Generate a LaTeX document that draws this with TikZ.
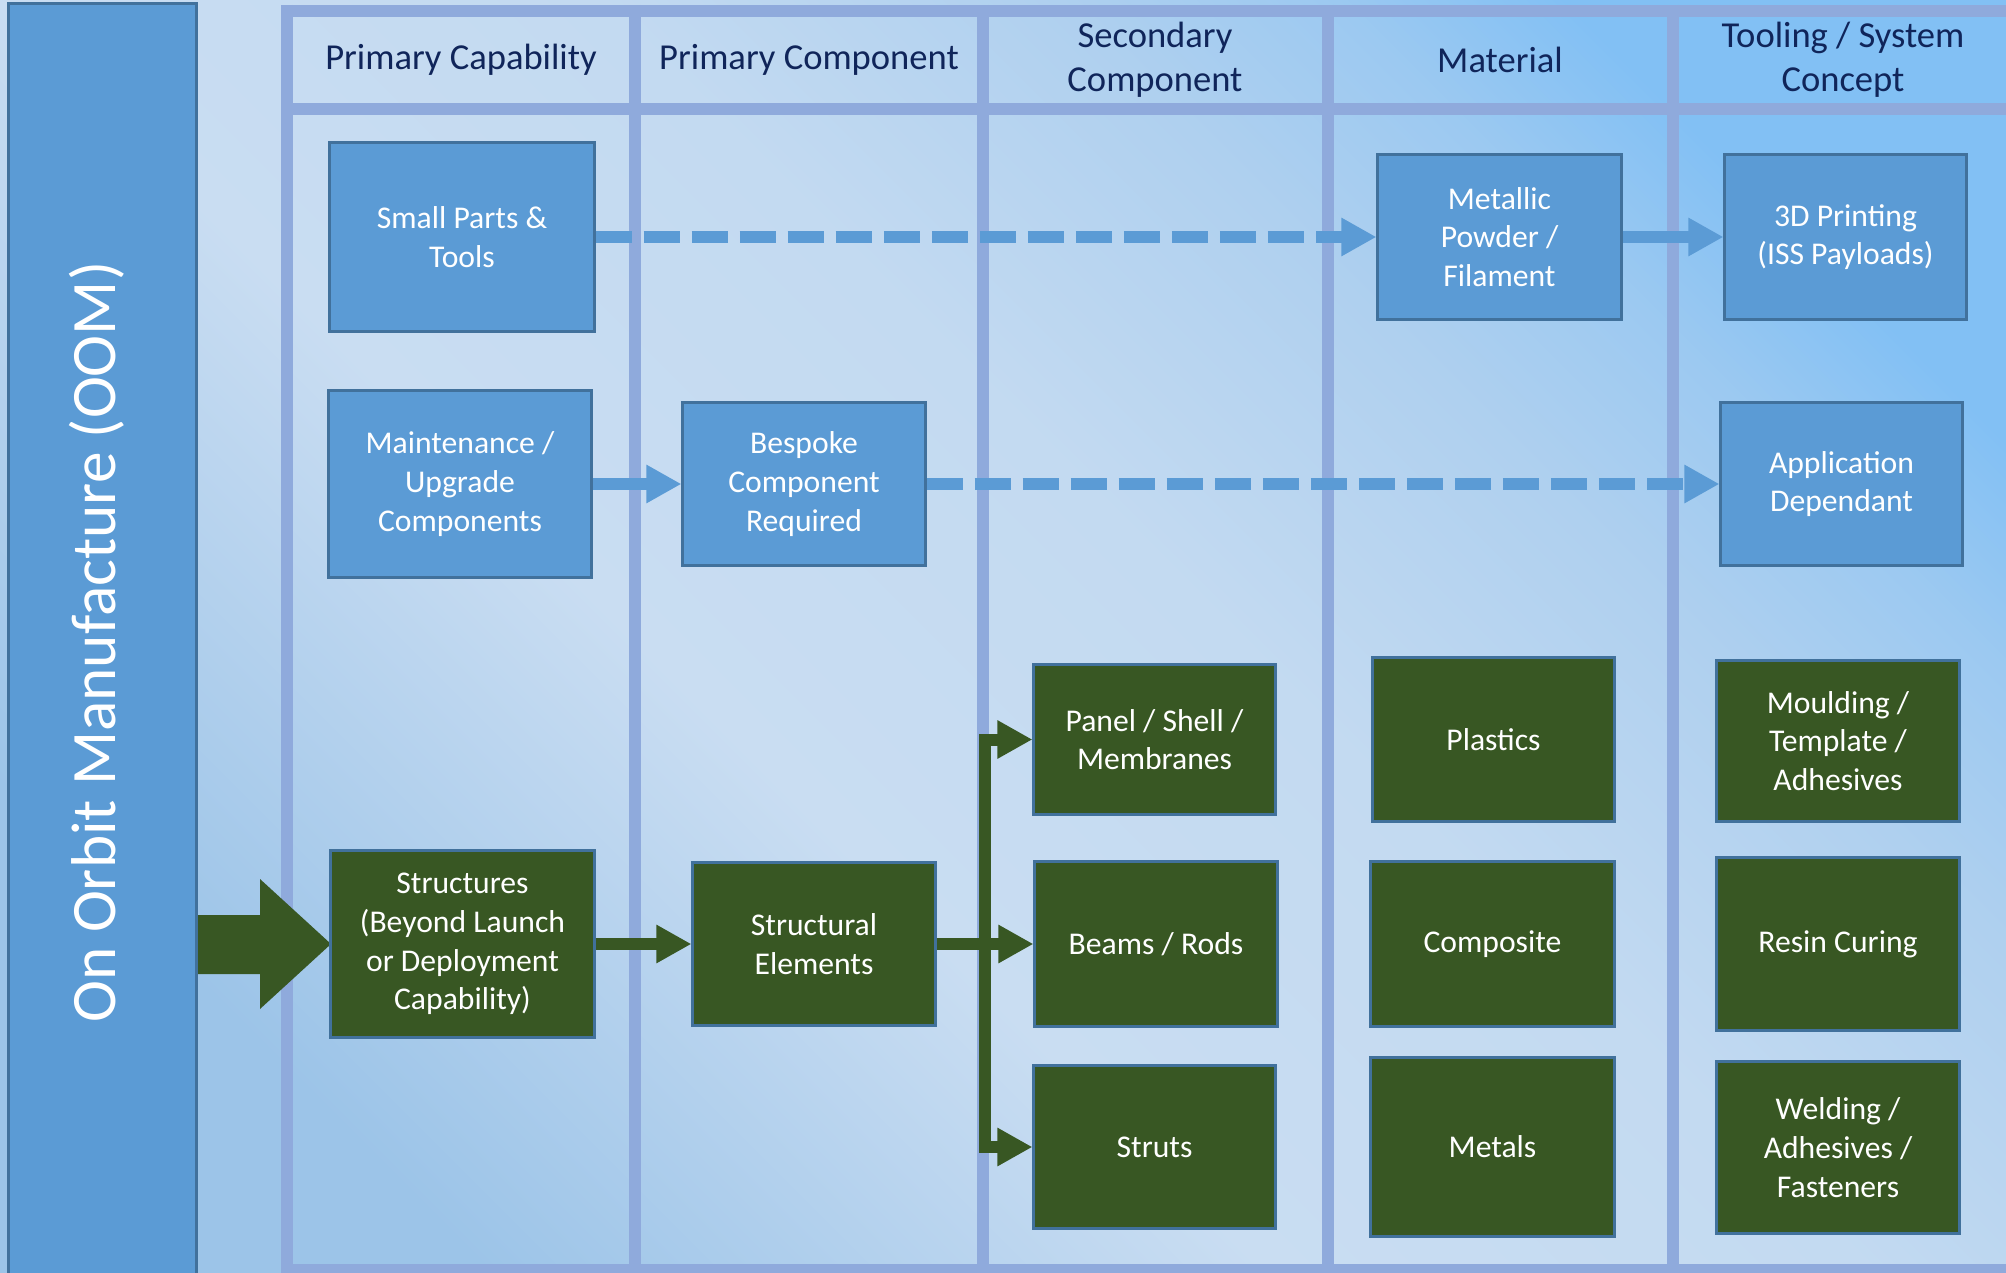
\documentclass[tikz,border=0pt]{standalone}
\usepackage{fontspec}
\setmainfont{Carlito}
\usetikzlibrary{arrows.meta}
\definecolor{bgA}{HTML}{9CC4E8}
\definecolor{bgB}{HTML}{C9DDF2}
\definecolor{bgC}{HTML}{C3DAF1}
\definecolor{bgD}{HTML}{AFD0EF}
\definecolor{bgE}{HTML}{9CC9F1}
\definecolor{bgF}{HTML}{82C0F4}
\definecolor{gridc}{HTML}{8FAADC}
\definecolor{boxblue}{HTML}{5B9BD5}
\definecolor{boxedge}{HTML}{41719C}
\definecolor{boxgreen}{HTML}{385723}
\definecolor{hdrtext}{HTML}{10255A}
\pgfdeclarehorizontalshading{bgshade}{100bp}{color(0bp)=(bgA); color(25bp)=(bgA); color(42bp)=(bgB); color(55bp)=(bgC); color(65bp)=(bgD); color(71bp)=(bgE); color(76bp)=(bgF); color(100bp)=(bgF)}
\begin{document}
\begin{tikzpicture}[x=0.01cm,y=-0.01cm,
  bluebox/.style={draw=boxedge, fill=boxblue, line width=0.03cm, inner sep=0pt,
    align=center, text=white, font=\fontsize{9}{11}\selectfont},
  greenbox/.style={draw=boxedge, fill=boxgreen, line width=0.03cm, inner sep=0pt,
    align=center, text=white, font=\fontsize{9}{11}\selectfont},
  hdr/.style={align=center, text=hdrtext, font=\fontsize{10.4}{12.6}\selectfont},
  gridline/.style={draw=gridc, line width=0.12cm},
  flowblue/.style={draw=boxblue, line width=0.11cm, -{Triangle[length=0.35cm, width=0.36cm]}},
  flowgreen/.style={draw=boxgreen, line width=0.12cm, -{Triangle[length=0.35cm, width=0.36cm]}},
  dashflow/.style={dash pattern=on 0.36cm off 0.12cm}
]
\useasboundingbox (0,0) rectangle (2006,1273);
\clip (0,0) rectangle (2006,1273);
% background
\shade[shading=bgshade, shading angle=45] (0,0) rectangle (2006,1273);
% grid
\draw[gridline] (281,11) -- (2020,11);
\draw[gridline] (281,109) -- (2020,109);
\draw[gridline] (281,1270) -- (2020,1270);
\foreach \gx in {287,635,983,1328,1673} {
  \draw[gridline] (\gx,5) -- (\gx,1280);
}
% headers
\node[hdr] (h1) at (461,60) {Primary Capability};
\node[hdr] (h2) at (809,60) {Primary Component};
\node[hdr] (h3) at (1155,60) {Secondary\\Component};
\node[hdr] (h4) at (1500,60) {Material};
\node[hdr] (h5) at (1843,60) {Tooling / System\\Concept};
% big arrow
\coordinate (ba1) at (180,915);
\coordinate (ba2) at (260,915);
\coordinate (ba3) at (260,879);
\coordinate (ba4) at (331,944);
\coordinate (ba5) at (260,1009);
\coordinate (ba6) at (260,974);
\coordinate (ba7) at (180,974);
\fill[boxgreen] (ba1) -- (ba2) -- (ba3) -- (ba4) -- (ba5) -- (ba6) -- (ba7) -- cycle;
% left bar
\node[draw=boxedge, fill=boxblue, line width=0.03cm, inner sep=0pt,
  minimum width=1.87cm, minimum height=12.80cm] (bar) at (102.5,644) {};
\node[rotate=90, text=white, font=\fontsize{18}{22}\selectfont] (title) at (97,642)
  {On Orbit Manufacture (OOM)};
% blue boxes
\node[bluebox, minimum width=2.64cm, minimum height=1.88cm] (small) at (462,237) {Small Parts \&\\Tools};
\node[bluebox, minimum width=2.43cm, minimum height=1.64cm] (metal) at (1499.5,237) {Metallic\\Powder /\\Filament};
\node[bluebox, minimum width=2.41cm, minimum height=1.64cm] (print) at (1845.5,237) {3D Printing\\(ISS Payloads)};
\node[bluebox, minimum width=2.62cm, minimum height=1.87cm] (maint) at (460,484) {Maintenance /\\Upgrade\\Components};
\node[bluebox, minimum width=2.42cm, minimum height=1.62cm] (bespoke) at (804,484) {Bespoke\\Component\\Required};
\node[bluebox, minimum width=2.41cm, minimum height=1.62cm] (appdep) at (1841.5,484) {Application\\Dependant};
% green boxes
\node[greenbox, minimum width=2.41cm, minimum height=1.49cm] (panel) at (1154.5,739.5) {Panel / Shell /\\Membranes};
\node[greenbox, minimum width=2.41cm, minimum height=1.63cm] (plastics) at (1493.5,739.5) {Plastics};
\node[greenbox, minimum width=2.42cm, minimum height=1.60cm] (mould) at (1838,741) {Moulding /\\Template /\\Adhesives};
\node[greenbox, minimum width=2.63cm, minimum height=1.86cm] (struct) at (462.5,944) {Structures\\(Beyond Launch\\or Deployment\\Capability)};
\node[greenbox, minimum width=2.42cm, minimum height=1.63cm] (selem) at (814,944) {Structural\\Elements};
\node[greenbox, minimum width=2.42cm, minimum height=1.64cm] (beams) at (1156,944) {Beams / Rods};
\node[greenbox, minimum width=2.43cm, minimum height=1.64cm] (comp) at (1492.5,944) {Composite};
\node[greenbox, minimum width=2.42cm, minimum height=1.72cm] (resin) at (1838,944) {Resin Curing};
\node[greenbox, minimum width=2.41cm, minimum height=1.62cm] (struts) at (1154.5,1147) {Struts};
\node[greenbox, minimum width=2.43cm, minimum height=1.78cm] (metals) at (1492.5,1147) {Metals};
\node[greenbox, minimum width=2.42cm, minimum height=1.71cm] (weld) at (1838,1147.5) {Welding /\\Adhesives /\\Fasteners};
% connectors
\draw[flowblue, dashflow] (small.east) -- (metal.west);
\draw[flowblue] (metal.east) -- (print.west);
\draw[flowblue] (maint.east) -- (bespoke.west);
\draw[flowblue, dashflow] (bespoke.east) -- (appdep.west);
\draw[flowgreen] (struct.east) -- (selem.west);
\coordinate (br) at (985,944);
\draw[flowgreen] (selem.east) -- (beams.west);
\draw[flowgreen] (br) |- (panel.west);
\draw[flowgreen] (br) |- (struts.west);
\end{tikzpicture}
\end{document}
